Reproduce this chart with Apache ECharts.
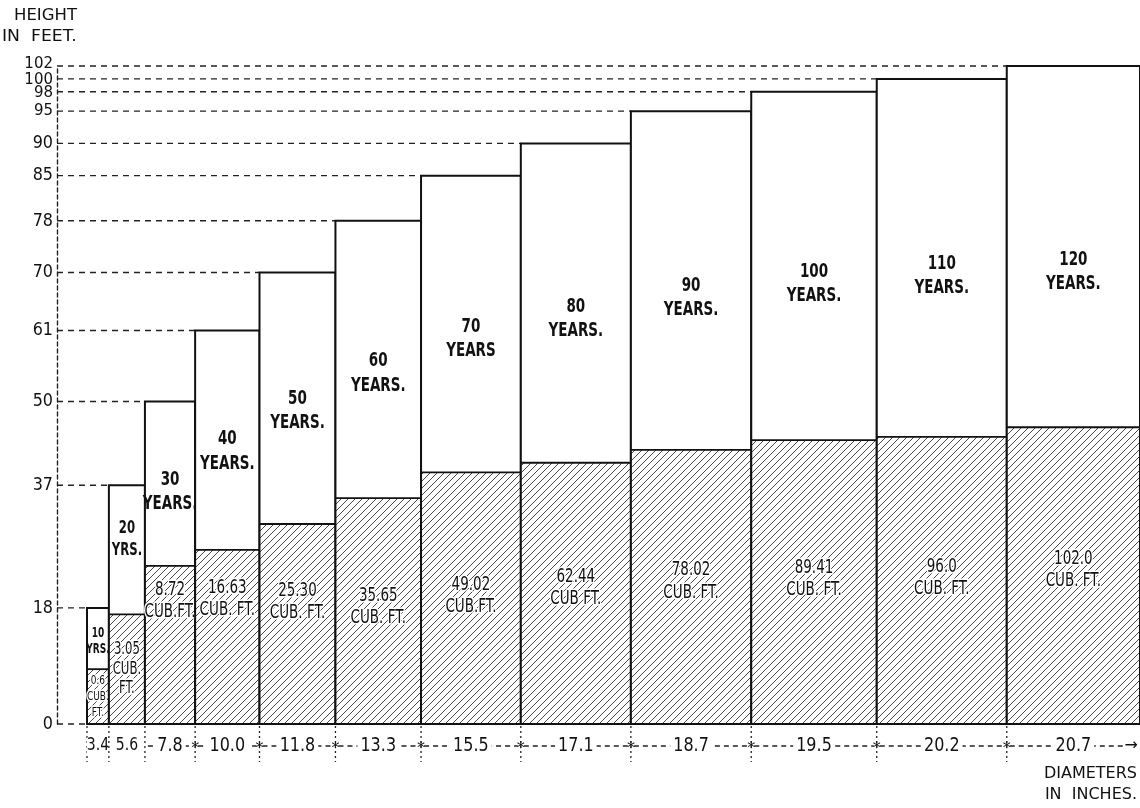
<!DOCTYPE html>
<html><head><meta charset="utf-8">
<script src="https://cdn.jsdelivr.net/npm/echarts@6/dist/echarts.min.js"></script>
<style>html,body{margin:0;padding:0;background:#fff}#c{width:1140px;height:808px}</style>
</head><body><div id="c"></div>
<script>
// ---- data ----
const diameters   = [3.4, 5.6, 7.8, 10.0, 11.8, 13.3, 15.5, 17.1, 18.7, 19.5, 20.2, 20.7];
const diameterLabels = ['3.4', '5.6', '7.8', '10.0', '11.8', '13.3', '15.5', '17.1', '18.7', '19.5', '20.2', '20.7'];
const heights     = [18, 37, 50, 61, 70, 78, 85, 90, 95, 98, 100, 102];
const hatchHeights = [8.5, 17, 24.5, 27, 31, 35, 39, 40.5, 42.5, 44, 44.5, 46];
const ages        = [10, 20, 30, 40, 50, 60, 70, 80, 90, 100, 110, 120];
const ageUnits    = ['YRS.', 'YRS.', 'YEARS.', 'YEARS.', 'YEARS.', 'YEARS.', 'YEARS', 'YEARS.', 'YEARS.', 'YEARS.', 'YEARS.', 'YEARS.'];
const volumes     = ['0.6', '3.05', '8.72', '16.63', '25.30', '35.65', '49.02', '62.44', '78.02', '89.41', '96.0', '102.0'];
const volumeUnits = ['CUB.\nFT.', 'CUB.\nFT.', 'CUB.FT.', 'CUB. FT.', 'CUB. FT.', 'CUB. FT.', 'CUB.FT.', 'CUB FT.', 'CUB. FT.', 'CUB. FT.', 'CUB. FT.', 'CUB. FT.'];
const heightTicks = [0, 18, 37, 50, 61, 70, 78, 85, 90, 95, 98, 100, 102];

// ---- layout constants ----
const AXIS_OFFSET = 30;
const ageLabelFrac = [0.55, 0.42, 0.55, 0.55, 0.55, 0.55, 0.55, 0.55, 0.55, 0.55, 0.55, 0.57];
const volLabelFrac = [0.5, 0.5, 0.78, 0.72, 0.61, 0.52, 0.51, 0.52, 0.52, 0.51, 0.51, 0.52];
const LABEL_FONT = "'DejaVu Sans Condensed','Liberation Sans Narrow',sans-serif";

let acc = 0;
const barData = diameters.map((d, i) => { const s = acc; acc += d; return [s, acc, heights[i], hatchHeights[i], i]; });
const totalDiam = acc;

function makeHatch() {
  const n = 7;
  const c = document.createElement('canvas');
  c.width = n; c.height = n;
  const g = c.getContext('2d');
  g.fillStyle = '#fff'; g.fillRect(0, 0, n, n);
  g.strokeStyle = '#333'; g.lineWidth = 0.9;
  g.beginPath();
  g.moveTo(-1, n + 1); g.lineTo(n + 1, -1);
  g.moveTo(-1, 1); g.lineTo(1, -1);
  g.moveTo(n - 1, n + 1); g.lineTo(n + 1, n - 1);
  g.stroke();
  return c;
}
const hatch = makeHatch();

function renderBar(params, api) {
  const s = api.value(0), e = api.value(1), h = api.value(2), hh = api.value(3), i = api.value(4);
  const pb = api.coord([s, 0]), pt = api.coord([e, h]), ph = api.coord([s, hh]);
  const x0 = pb[0], x1 = pt[0], yb = pb[1], yt = pt[1], yh = ph[1];
  const axisX = api.coord([0, 0])[0] - AXIS_OFFSET;
  const w = x1 - x0;
  const children = [];
  children.push({ type: 'line', shape: { x1: axisX, y1: yt, x2: x0, y2: yt },
    style: { stroke: '#222', lineWidth: 1.4, lineDash: [6, 5] } });
  if (i === 0) {
    children.push({ type: 'line', shape: { x1: axisX, y1: yb, x2: x0, y2: yb },
      style: { stroke: '#222', lineWidth: 1.4, lineDash: [6, 5] } });
  }
  children.push({ type: 'rect', shape: { x: x0, y: yh, width: w, height: yb - yh },
    style: { fill: { image: hatch, repeat: 'repeat' }, stroke: null } });
  children.push({ type: 'rect', shape: { x: x0, y: yt, width: w, height: yh - yt },
    style: { fill: '#fff', stroke: null } });
  children.push({ type: 'line', shape: { x1: x0, y1: yh, x2: x1, y2: yh },
    style: { stroke: '#111', lineWidth: 1.8 } });
  children.push({ type: 'rect', shape: { x: x0, y: yt, width: w, height: yb - yt },
    style: { fill: null, stroke: '#111', lineWidth: 2 } });
  const ay = yt + ageLabelFrac[i] * (yh - yt);
  const aFont = i === 0 ? 10 : i === 1 ? 13 : 15;
  children.push({ type: 'text', x: (x0 + x1) / 2, y: ay, scaleY: 1.35,
    style: { text: ages[i] + '\n' + ageUnits[i], align: 'center', verticalAlign: 'middle',
      font: 'bold ' + aFont + 'px ' + LABEL_FONT,
      lineHeight: Math.round(aFont * 1.2), fill: '#111' } });
  const vy = yb - volLabelFrac[i] * (yb - yh);
  const vFont = i === 0 ? 10 : i === 1 ? 13 : 15;
  children.push({ type: 'text', x: (x0 + x1) / 2, y: vy, scaleY: 1.3,
    style: { text: volumes[i] + '\n' + volumeUnits[i], align: 'center', verticalAlign: 'middle',
      font: vFont + 'px ' + LABEL_FONT,
      lineHeight: Math.round(vFont * 1.15), fill: '#111', stroke: '#fff', lineWidth: 2.5 } });
  return { type: 'group', children };
}

function renderXLabel(params, api) {
  const s = api.value(0), e = api.value(1), i = api.value(4);
  const p0 = api.coord([s, 0]), p1 = api.coord([e, 0]);
  const x0 = p0[0], x1 = p1[0], yb = p0[1];
  const ly = yb + 22;
  const last = i === diameters.length - 1;
  const children = [];
  children.push({ type: 'line', shape: { x1: x0, y1: yb + 2, x2: x0, y2: yb + 38 },
    style: { stroke: '#222', lineWidth: 1.3, lineDash: [2, 3] } });
  if (i >= 2) {
    children.push({ type: 'line', shape: { x1: x0 + 3, y1: ly, x2: (last ? x1 - 14 : x1 - 3), y2: ly },
      style: { stroke: '#222', lineWidth: 1.4, lineDash: [5, 4] } });
  }
  if (i >= 3) {
    children.push({ type: 'text', x: x0, y: ly + 3,
      style: { text: '*', align: 'center', verticalAlign: 'middle', font: '16px DejaVu Sans', fill: '#111' } });
  }
  children.push({ type: 'text', x: (x0 + x1) / 2, y: ly, scaleY: 1.2,
    style: { text: diameterLabels[i], align: 'center', verticalAlign: 'middle',
      font: (i < 2 ? '14px ' : '16px ') + "'DejaVu Sans'", fill: '#111',
      backgroundColor: '#fff', padding: [0, i < 2 ? 0 : 3] } });
  if (last) {
    children.push({ type: 'text', x: x1 - 2, y: ly,
      style: { text: '→', align: 'right', verticalAlign: 'middle', font: '16px DejaVu Sans', fill: '#111' } });
  }
  return { type: 'group', children };
}

function renderYLabel(params, api) {
  const v = api.value(0);
  const p = api.coord([0, v]);
  const tight = v >= 95;
  const nudge = v === 102 ? -2 : v === 100 ? 1 : v === 98 ? 1 : 0;
  return { type: 'text', x: p[0] - AXIS_OFFSET - 4, y: p[1] + nudge, scaleY: tight ? 1.0 : 1.15,
    style: { text: String(v), align: 'right', verticalAlign: 'middle',
      font: (tight ? '15px' : '16px') + ' DejaVu Sans', fill: '#111' } };
}

const chart = echarts.init(document.getElementById('c'), null, { renderer: 'canvas' });
chart.setOption({
  animation: false,
  backgroundColor: '#fff',
  grid: { left: 87, right: 0, top: 66, bottom: 84 },
  xAxis: { type: 'value', min: 0, max: totalDiam, show: false },
  yAxis: {
    type: 'value', min: 0, max: 102, offset: AXIS_OFFSET,
    axisLine: { show: true, onZero: false, lineStyle: { color: '#222', width: 1.4, type: [4, 3] } },
    axisTick: { show: false }, splitLine: { show: false }, axisLabel: { show: false }
  },
  graphic: [
    { type: 'text', left: 14, top: 9, scaleX: 1.1, style: { text: 'HEIGHT', font: '15px DejaVu Sans', fill: '#111' } },
    { type: 'text', left: 2, top: 30, scaleX: 1.15, style: { text: 'IN  FEET.', font: '15px DejaVu Sans', fill: '#111' } },
    { type: 'text', right: 3, top: 766, style: { text: 'DIAMETERS', font: '16px DejaVu Sans', fill: '#111' } },
    { type: 'text', right: 3, top: 787, style: { text: 'IN  INCHES.', font: '16px DejaVu Sans', fill: '#111' } }
  ],
  series: [
    { type: 'custom', renderItem: renderBar, data: barData, clip: false, z: 2 },
    { type: 'custom', renderItem: renderXLabel, data: barData, clip: false, z: 3 },
    { type: 'custom', renderItem: renderYLabel, data: heightTicks.map(v => [v]), clip: false, z: 3 }
  ]
});
</script></body></html>
